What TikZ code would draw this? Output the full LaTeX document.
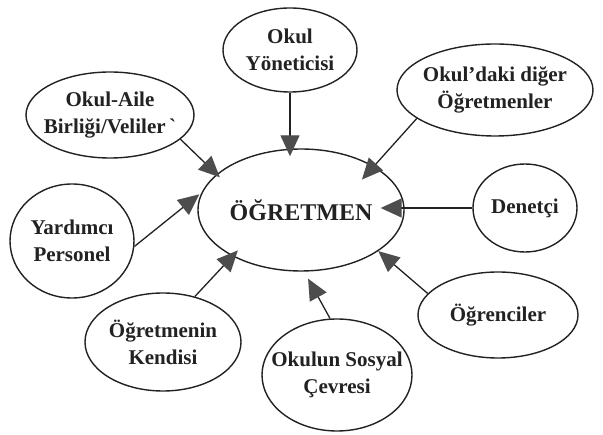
\documentclass[tikz,border=0pt]{standalone}
\usepackage{fontspec}
\setmainfont{Liberation Serif}
\usetikzlibrary{arrows.meta,shapes.geometric}
\definecolor{ink}{HTML}{222222}
\definecolor{headgray}{HTML}{4D4D4D}
\begin{document}
\begin{tikzpicture}[x=1pt,y=-1pt,
  bub/.style={ellipse, draw=ink, line width=1.4pt, inner sep=0pt},
  lbl/.style={font=\fontsize{21}{27}\selectfont\bfseries, text=ink, align=center},
  biglbl/.style={font=\fontsize{24}{28}\selectfont\bfseries, text=ink, align=center},
  arr/.style={draw=ink, line width=1.3pt, -{Triangle[length=21pt,width=19pt,color=headgray]}}]
\fill[white] (0,0) rectangle (603,435);
\useasboundingbox (0,0) rectangle (603,435);

\node[bub, minimum width=206pt, minimum height=122pt, label={[biglbl]center:{ÖĞRETMEN}}] (ogr) at (301,210) {};
\node[bub, minimum width=134pt, minimum height=84pt, label={[lbl]center:{Okul\\Yöneticisi}}] (yon) at (290,50) {};
\node[bub, minimum width=168pt, minimum height=86pt, label={[lbl]center:{Okul-Aile\\Birliği/Veliler\,\textasciigrave}}] (aile) at (110,115) {};
\node[bub, minimum width=196pt, minimum height=92pt, label={[lbl]center:{Okul’daki diğer\\Öğretmenler}}] (okd) at (495,90) {};
\node[bub, minimum width=104pt, minimum height=88pt, label={[lbl]center:{Denetçi}}] (den) at (525,208) {};
\node[bub, minimum width=124pt, minimum height=114pt, label={[lbl]center:{Yardımcı\\Personel}}] (yar) at (72,241) {};
\node[bub, minimum width=156pt, minimum height=98pt, label={[lbl]center:{Öğretmenin\\Kendisi}}] (ken) at (163,342) {};
\node[bub, minimum width=150pt, minimum height=112pt, label={[lbl]center:{Okulun Sosyal\\Çevresi}}] (sos) at (337,375) {};
\node[bub, minimum width=160pt, minimum height=86pt, label={[lbl]center:{Öğrenciler}}] (ogcl) at (498,315) {};

\draw[arr, shorten >=-8pt] (yon.south) -- (yon.south |- ogr.north);
\draw[arr, shorten >=-4.5pt] (aile.-19) -- (ogr.157.3);
\draw[arr, shorten >=-18pt] (okd.200) -- (ogr.31);
\draw[arr, shorten >=-24pt] (den.west) -- (den.west -| ogr.east);
\draw[arr, shorten >=3pt] (yar.-5) -- (ogr.170.5);
\draw[arr, shorten >=-8pt] (ken.55) -- (ogr.214.9);
\draw[arr, shorten >=8pt] (sos.97) -- (ogr.-87);
\draw[arr] (ogcl.163) -- (ogr.-28.4);
\end{tikzpicture}
\end{document}
